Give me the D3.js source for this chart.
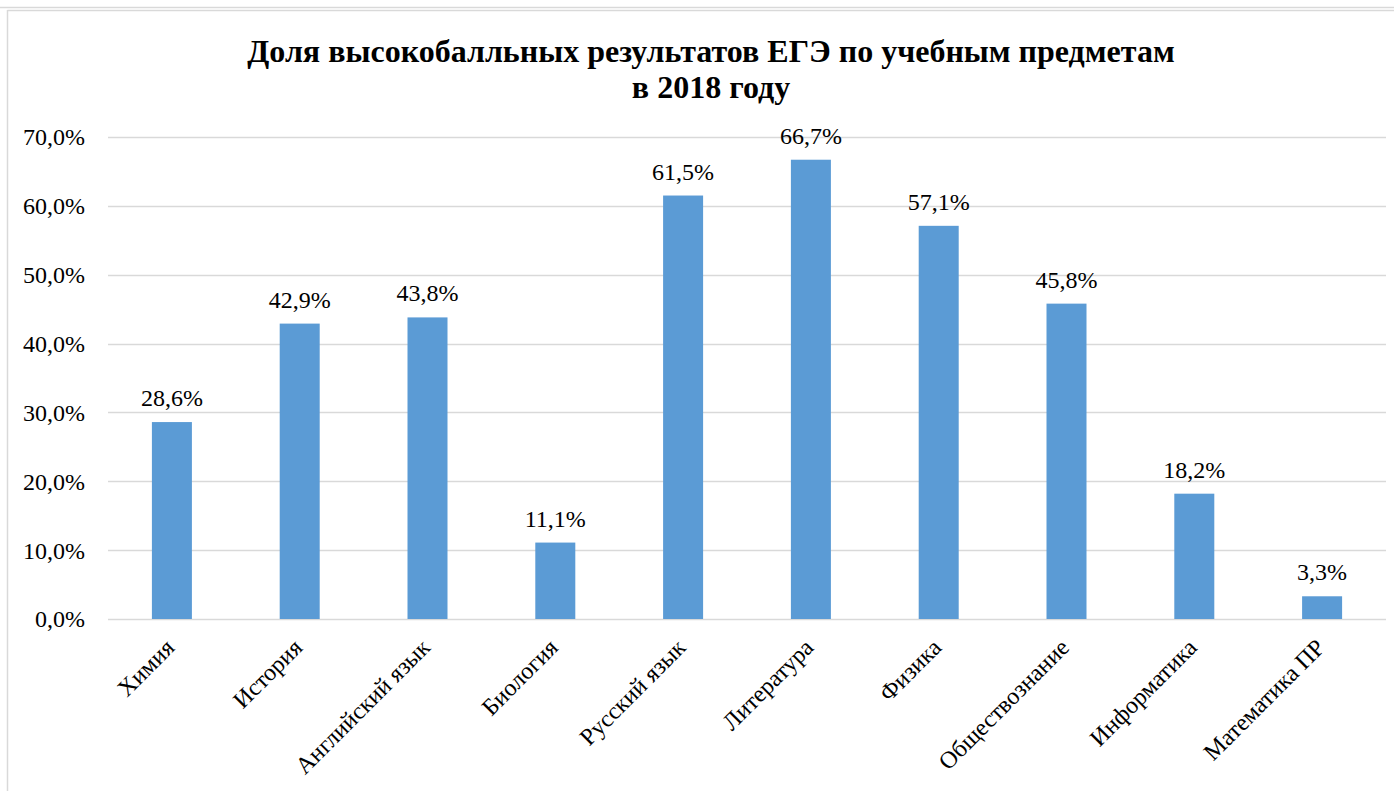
<!DOCTYPE html>
<html>
<head>
<meta charset="utf-8">
<script src="https://cdn.jsdelivr.net/npm/d3@7"></script>
<style>
  body { margin: 0; background: #fff; }
  svg { display: block; font-family: "Liberation Serif", "Times New Roman", serif; }
</style>
</head>
<body>
<script>
// Subjects and share of high scores (%)
var subjects = ["Химия", "История", "Английский язык", "Биология", "Русский язык",
                "Литература", "Физика", "Обществознание", "Информатика", "Математика ПР"];
var shares = [28.6, 42.9, 43.8, 11.1, 61.5, 66.7, 57.1, 45.8, 18.2, 3.3];
var yTicks = [0, 10, 20, 30, 40, 50, 60, 70];

var width = 1394, height = 791;
var fmt = function(v) { return v.toFixed(1).replace(".", ",") + "%"; };

var svg = d3.select("body").append("svg")
  .attr("width", width)
  .attr("height", height);

// outer frame lines
svg.append("line").attr("x1", 0).attr("x2", width).attr("y1", 7.5).attr("y2", 7.5)
  .attr("stroke", "#d9d9d9").attr("stroke-width", 1.5);
svg.append("line").attr("x1", 7.5).attr("x2", width).attr("y1", 10.5).attr("y2", 10.5)
  .attr("stroke", "#d9d9d9").attr("stroke-width", 1.5);
svg.append("line").attr("x1", 7.5).attr("x2", 7.5).attr("y1", 10).attr("y2", height)
  .attr("stroke", "#d9d9d9").attr("stroke-width", 1.5);

// title
var title = svg.append("text")
  .attr("text-anchor", "middle")
  .attr("font-weight", "bold")
  .attr("font-size", 32);
title.append("tspan").attr("x", 711).attr("y", 62).text("Доля высокобалльных результатов ЕГЭ по учебным предметам");
title.append("tspan").attr("x", 711).attr("y", 98).text("в 2018 году");

var x = d3.scaleBand()
  .domain(subjects)
  .range([108, 1386])
  .paddingInner(0.687)
  .paddingOuter(0.3435);

var y = d3.scaleLinear()
  .domain([0, 70])
  .range([619, 137]);

// gridlines
svg.selectAll(".grid")
  .data(yTicks)
  .enter().append("line")
    .attr("class", "grid")
    .attr("x1", 108)
    .attr("x2", 1386)
    .attr("y1", function(d) { return Math.round(y(d)) + 0.5; })
    .attr("y2", function(d) { return Math.round(y(d)) + 0.5; })
    .attr("stroke", "#d9d9d9")
    .attr("stroke-width", 1.5);

// y tick labels
svg.selectAll(".ytick")
  .data(yTicks)
  .enter().append("text")
    .attr("class", "ytick")
    .attr("x", 85)
    .attr("y", function(d) { return y(d); })
    .attr("dy", "0.35em")
    .attr("text-anchor", "end")
    .attr("font-size", 24)
    .attr("fill", "#000")
    .text(function(d) { return fmt(d); });

// bars
svg.selectAll(".bar")
  .data(shares)
  .enter().append("rect")
    .attr("class", "bar")
    .attr("x", function(d, i) { return x(subjects[i]); })
    .attr("y", function(d) { return y(d); })
    .attr("width", x.bandwidth())
    .attr("height", function(d) { return y(0) - y(d); })
    .attr("fill", "#5b9bd5");

// value labels
svg.selectAll(".val")
  .data(shares)
  .enter().append("text")
    .attr("class", "val")
    .attr("x", function(d, i) { return x(subjects[i]) + x.bandwidth() / 2; })
    .attr("y", function(d) { return y(d) - 16; })
    .attr("text-anchor", "middle")
    .attr("font-size", 24)
    .attr("fill", "#000")
    .text(function(d) { return fmt(d); });

// category labels, rotated
svg.selectAll(".cat")
  .data(subjects)
  .enter().append("text")
    .attr("class", "cat")
    .attr("transform", function(d) {
      return "translate(" + (x(d) + x.bandwidth() / 2 + 4) + ",649) rotate(-45)";
    })
    .attr("text-anchor", "end")
    .attr("font-size", 24)
    .attr("fill", "#000")
    .text(function(d) { return d; });
</script>
</body>
</html>
